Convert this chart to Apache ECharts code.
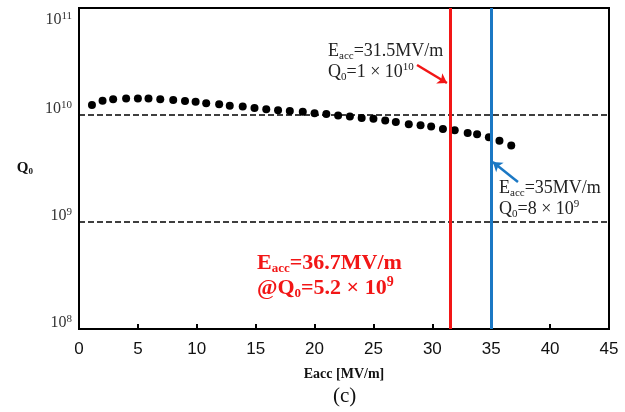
<!DOCTYPE html>
<html>
<head>
<meta charset="utf-8">
<script src="https://cdn.jsdelivr.net/npm/echarts@6/dist/echarts.min.js"></script>
<style>
html, body { margin: 0; padding: 0; background: #fff; }
#chart { width: 625px; height: 412px; }
</style>
</head>
<body>
<div id="chart"></div>
<script>
// Eacc [MV/m] and Q0
var eacc = [1.1, 2, 2.9, 4, 5, 5.9, 6.9, 8, 9, 9.9, 10.8, 11.9, 12.8, 13.9, 14.9, 15.9, 16.9, 17.9, 19, 20,
    21, 22, 23, 24, 25, 26, 26.9, 28, 29, 29.9, 30.9, 31.9, 33, 33.8, 34.8, 35.7, 36.7];
var q0 = [1.24e10, 1.36e10, 1.40e10, 1.43e10, 1.43e10, 1.43e10, 1.40e10, 1.38e10, 1.35e10, 1.33e10,
    1.29e10, 1.26e10, 1.22e10, 1.20e10, 1.16e10, 1.13e10, 1.11e10, 1.09e10, 1.07e10, 1.04e10,
    1.02e10, 9.9e9, 9.7e9, 9.4e9, 9.2e9, 8.9e9, 8.6e9, 8.2e9, 8.0e9, 7.8e9,
    7.4e9, 7.2e9, 6.8e9, 6.6e9, 6.2e9, 5.75e9, 5.2e9];

var refLevels = [1e10, 1e9];          // dashed horizontal lines
var limitRed = 31.5;                  // Eacc limit lines
var limitBlue = 35;
var arrowRed = [[28.7, 2.93e10], [31.24, 1.99e10]];
var arrowBlue = [[37.27, 2.37e9], [35.14, 3.64e9]];

var serif = "'Liberation Serif', 'DejaVu Serif', serif";
var sans = "'Liberation Sans', Arial, sans-serif";
var red = '#f21616';
var blue = '#1b78c4';

var points = [];
for (var i = 0; i < eacc.length; i++) {
    points.push([eacc[i], q0[i]]);
}

var myChart = echarts.init(document.getElementById('chart'));

var lines = [];
refLevels.forEach(function (v) {
    lines.push({ yAxis: v, lineStyle: { color: '#000', width: 1.6, type: [6, 3] } });
});
lines.push({ xAxis: limitRed, lineStyle: { color: red, width: 3, type: 'solid' } });
lines.push({ xAxis: limitBlue, lineStyle: { color: blue, width: 3, type: 'solid' } });
lines.push([
    { coord: arrowRed[0], symbol: 'none', lineStyle: { color: red, width: 2.5, type: 'solid' } },
    { coord: arrowRed[1], symbol: 'arrow', symbolSize: 9 }
]);
lines.push([
    { coord: arrowBlue[0], symbol: 'none', lineStyle: { color: blue, width: 2.5, type: 'solid' } },
    { coord: arrowBlue[1], symbol: 'arrow', symbolSize: 9 }
]);

function noteStyle(size, weight, colour) {
    return {
        n: { fontFamily: serif, fontSize: size, fontWeight: weight, fill: colour, lineHeight: size + 3 },
        sub: { fontFamily: serif, fontSize: Math.round(size * 0.6), fontWeight: weight, fill: colour, lineHeight: Math.round(size * 0.6), verticalAlign: 'bottom' },
        sup: { fontFamily: serif, fontSize: Math.round(size * 0.62), fontWeight: weight, fill: colour, lineHeight: Math.round(size * 0.62) + 2, verticalAlign: 'top' }
    };
}

var option = {
    animation: false,
    grid: {
        left: 79, right: 16, top: 8, bottom: 83,
        outerBoundsMode: 'none',
        show: true, borderColor: '#000', borderWidth: 2
    },
    xAxis: {
        type: 'value',
        min: 0, max: 45, interval: 5,
        name: 'Eacc [MV/m]',
        nameLocation: 'middle',
        nameGap: 38,
        nameTextStyle: { fontFamily: serif, fontSize: 14, fontWeight: 'bold', color: '#111' },
        axisLine: { lineStyle: { color: '#000', width: 2 } },
        axisTick: { show: true, inside: true, length: 5, lineStyle: { color: '#000', width: 2 } },
        axisLabel: { margin: 12, fontFamily: sans, fontSize: 17, color: '#111' },
        splitLine: { show: false }
    },
    yAxis: {
        type: 'log',
        logBase: 10,
        min: 1e8, max: 1e11,
        name: '{q|Q}{s|0}',
        nameLocation: 'middle',
        nameRotate: 0,
        nameGap: 46,
        nameTextStyle: {
            rich: {
                q: { fontFamily: serif, fontSize: 15, fontWeight: 'bold', color: '#111', lineHeight: 16 },
                s: { fontFamily: serif, fontSize: 9, fontWeight: 'bold', color: '#111', lineHeight: 10, verticalAlign: 'bottom' }
            }
        },
        axisLine: { show: true, lineStyle: { color: '#000', width: 2 } },
        axisTick: { show: false },
        splitLine: { show: false },
        axisLabel: {
            margin: 7,
            formatter: function (v) {
                var e = Math.round(Math.log10(v));
                return e === 11 ? '{g| }\n{b|10}{s|' + e + '}' : '{b|10}{s|' + e + '}\n';
            },
            rich: {
                g: { fontSize: 10, lineHeight: 24 },
                b: { fontFamily: serif, fontSize: 16, color: '#333', lineHeight: 18 },
                s: { fontFamily: serif, fontSize: 11, color: '#333', lineHeight: 12, verticalAlign: 'top' }
            }
        }
    },
    series: [{
        type: 'scatter',
        data: points,
        symbol: 'circle',
        symbolSize: 8,
        itemStyle: { color: '#000', opacity: 1 },
        markLine: {
            silent: true,
            symbol: ['none', 'none'],
            label: { show: false },
            data: lines
        }
    }],
    graphic: [
        {
            type: 'text', left: 328, top: 42,
            style: {
                text: '{n|E}{sub|acc}{n|=31.5MV/m}\n{n|Q}{sub|0}{n|=1 × 10}{sup|10}',
                rich: noteStyle(18, 'normal', '#222')
            }
        },
        {
            type: 'text', left: 499, top: 179,
            style: {
                text: '{n|E}{sub|acc}{n|=35MV/m}\n{n|Q}{sub|0}{n|=8 × 10}{sup|9}',
                rich: noteStyle(18, 'normal', '#222')
            }
        },
        {
            type: 'text', left: 257, top: 252,
            style: {
                text: '{n|E}{sub|acc}{n|=36.7MV/m}\n{n|@Q}{sub|0}{n|=5.2 × 10}{sup|9}',
                rich: noteStyle(22, 'bold', red)
            }
        },
        {
            type: 'text', left: 333, top: 386,
            style: { text: '(c)', font: '21px ' + serif, fill: '#111' }
        }
    ]
};

myChart.setOption(option);
window.addEventListener('resize', function () {
    myChart.resize();
});
</script>
</body>
</html>
